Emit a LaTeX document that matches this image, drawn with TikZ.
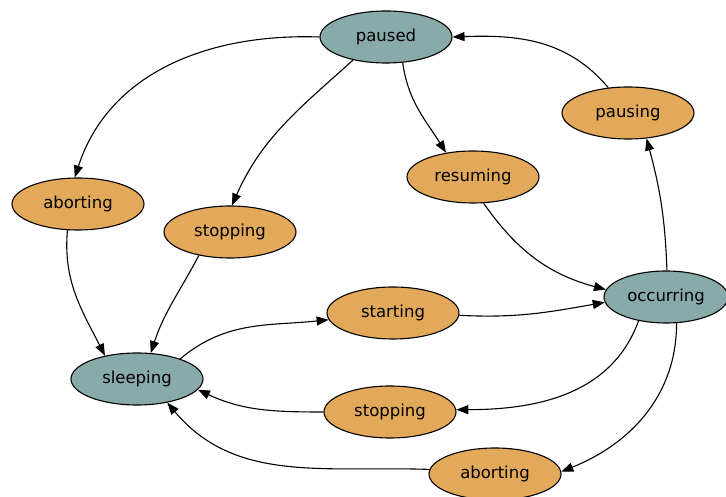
\documentclass[tikz,border=0pt]{standalone}
\usepackage{fontspec}
\setmainfont{DejaVu Sans}
\usetikzlibrary{arrows.meta,shapes.geometric}
\definecolor{statecol}{HTML}{88AAA8}
\definecolor{transcol}{HTML}{E3A95B}
\tikzset{
  blob/.style={ellipse, draw=black, line width=1.1pt, minimum width=132pt,
    minimum height=52pt, inner sep=0pt, font=\fontsize{16.5}{18}\selectfont},
  state/.style={blob, fill=statecol},
  trans/.style={blob, fill=transcol},
  link/.style={draw=black, line width=1.1pt, -{Triangle[length=12pt,width=9pt]}}
}
\begin{document}
\begin{tikzpicture}[x=1pt,y=1pt]
\useasboundingbox (0,0) rectangle (726,497);
\node[state] (paused)    at (386,460) {paused};
\node[trans] (pausing)   at (628,384) {pausing};
\node[trans] (resuming)  at (473,320) {resuming};
\node[trans] (abortL)    at (78,293)  {aborting};
\node[trans] (stopT)     at (230,265) {stopping};
\node[state, minimum width=124pt] (occurring) at (666,200) {occurring};
\node[trans] (starting)  at (393,184) {starting};
\node[state] (sleeping)  at (137,118) {sleeping};
\node[trans] (stopB)     at (390,85)  {stopping};
\node[trans] (abortB)    at (495,23)  {aborting};

\draw[link] (paused.180) to[out=178,in=72] (abortL.97);
\draw[link] (paused.215) to[out=222,in=66] (stopT.86);
\draw[link] (paused.-57) to[out=-82,in=122] (resuming.138);
\draw[link] (pausing.128) to[out=130,in=2] (paused.0);
\draw[link] (occurring.88) to[out=92,in=-75] (pausing.-54);
\draw[link] (resuming.-68) to[out=-55,in=165] (occurring.173);
\draw[link] (starting.-2) to[out=-3,in=190] (occurring.185);
\draw[link] (occurring.221) to[out=-110,in=0] (stopB.2);
\draw[link] (occurring.-68) to[out=-90,in=22] (abortB.2);
\draw[link] (abortL.248) to[out=-95,in=117] (sleeping.144);
\draw[link] (stopT.217) to[out=-118,in=72] (sleeping.62);
\draw[link] (sleeping.25) to[out=40,in=186] (starting.186);
\draw[link] (stopB.180) to[out=180,in=-25] (sleeping.-10);
\draw[link] (abortB.176) to[out=178,in=-50] (sleeping.-38);
\end{tikzpicture}
\end{document}
